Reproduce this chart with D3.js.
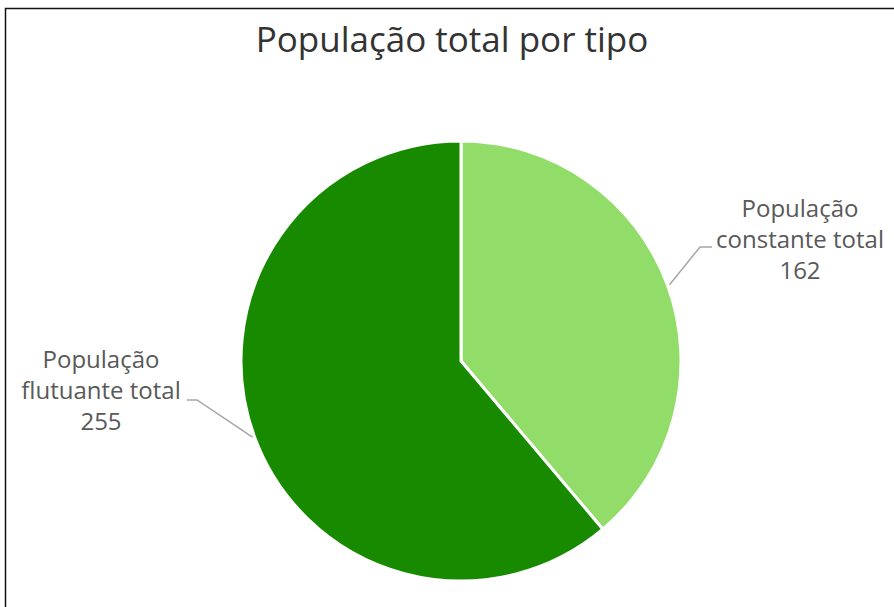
<!DOCTYPE html>
<html><head><meta charset="utf-8">
<script src="https://cdn.jsdelivr.net/npm/d3@7"></script>
<style>html,body{margin:0;padding:0;background:#fff;}svg{display:block;}</style>
</head><body>
<svg id="chart" width="894" height="607"></svg>
<script>
const title = "População total por tipo";
const categories = ["População constante total", "População flutuante total"];
const labelLines = [["População", "constante total"], ["População", "flutuante total"]];
const values = [162, 255];
const colors = ["#92DD6A", "#178A00"];

const svg = d3.select("#chart");
const W = 894, H = 607;
svg.append("rect").attr("x", 5.5).attr("y", 8.5).attr("width", 950).attr("height", 700)
  .attr("fill", "#fff").attr("stroke", "#111").attr("stroke-width", 1.5);

svg.append("text").attr("x", 452).attr("y", 52).attr("text-anchor", "middle")
  .attr("font-family", "Open Sans").attr("font-size", 35).attr("fill", "#333")
  .text(title);

const cx = 461, cy = 361, r = 220;
const data = categories.map((c, i) => ({ cat: c, value: values[i], lines: labelLines[i], color: colors[i] }));
const pie = d3.pie().value(d => d.value).sort(null);
const arcs = pie(data);
const arc = d3.arc().innerRadius(0).outerRadius(r);
const g = svg.append("g").attr("transform", `translate(${cx},${cy})`);
g.selectAll("path").data(arcs).join("path")
  .attr("d", arc).attr("fill", d => d.data.color)
  .attr("stroke", "#fff").attr("stroke-width", 3).attr("stroke-linejoin", "round");

// label layout (positions only)
const labelPos = [
  { x: 800, y: 217, elbow: [700, 247], end: [712, 247] },
  { x: 101, y: 368, elbow: [197, 400], end: [187, 400] }
];
arcs.forEach((a, i) => {
  const mid = (a.startAngle + a.endAngle) / 2;
  const sx = cx + (r + 2) * Math.sin(mid), sy = cy - (r + 2) * Math.cos(mid);
  const lp = labelPos[i];
  svg.append("polyline")
    .attr("points", [[sx, sy], lp.elbow, lp.end].map(p => p.join(",")).join(" "))
    .attr("fill", "none").attr("stroke", "#a6a6a6").attr("stroke-width", 1.5);
  const t = svg.append("text").attr("text-anchor", "middle")
    .attr("font-family", "Open Sans").attr("font-size", 24).attr("fill", "#595959");
  const lines = [...a.data.lines, String(a.data.value)];
  lines.forEach((ln, j) => {
    t.append("tspan").attr("x", lp.x).attr("y", lp.y + j * 31).text(ln);
  });
});
</script>
</body></html>
